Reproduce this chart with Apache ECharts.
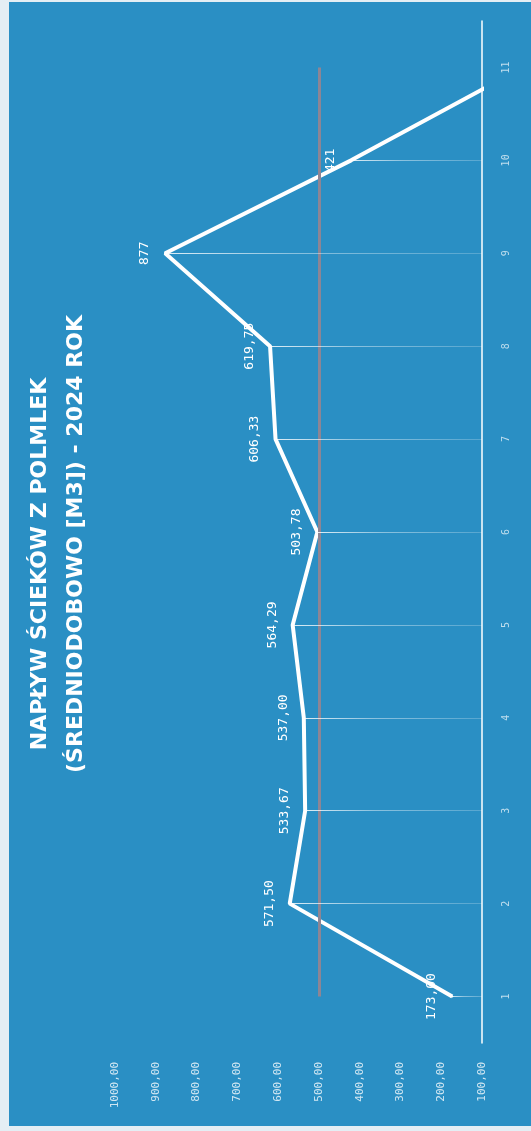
<!DOCTYPE html>
<html>
<head>
<meta charset="utf-8">
<script src="https://cdn.jsdelivr.net/npm/echarts@6/dist/echarts.min.js"></script>
<style>
  html, body { margin: 0; padding: 0; background: #e4eef4; }
  #chart { position: absolute; left: 9px; top: 2px; width: 522px; height: 1124px; }
</style>
</head>
<body>
<div id="chart"></div>
<script>
// months 1..11, average daily inflow [m3]
const months = ['1', '2', '3', '4', '5', '6', '7', '8', '9', '10', '11']
const inflow = [173, 571.5, 533.67, 537, 564.29, 503.78, 606.33, 619.75, 877, 421, 0]
const pointLabels = ['173,00', '571,50', '533,67', '537,00', '564,29', '503,78', '606,33', '619,75', '877', '421', '']
const limitValue = 500
const axisMin = 100
const axisMax = 1000
const axisStep = 100

const titleLine1 = 'NAPŁYW ŚCIEKÓW Z POLMLEK'
const titleLine2 = '(ŚREDNIODOBOWO [M3]) - 2024 ROK'

const chart = echarts.init(document.getElementById('chart'))

// thin drop lines from each point down to the month axis, fading out
const dropFade = new echarts.graphic.LinearGradient(0, 0, 1, 0, [
  { offset: 0, color: 'rgba(255,255,255,0.85)' },
  { offset: 0.4, color: 'rgba(255,255,255,0.45)' },
  { offset: 1, color: 'rgba(255,255,255,0.2)' }
])

const dropLines = inflow
  .map((v, i) => ({ v, i }))
  .filter(d => d.v >= axisMin)
  .map(d => [
    { coord: [d.v, months[d.i]] },
    { coord: [axisMin, months[d.i]] }
  ])

const limitLine = [
  { coord: [limitValue, months[0]], lineStyle: { color: '#8d8594', width: 3, opacity: 1 } },
  { coord: [limitValue, months[months.length - 1]] }
]

chart.setOption({
  backgroundColor: '#2a8fc4',
  animation: false,
  grid: { left: 106, right: 49, top: 19, bottom: 83 },
  graphic: [
    {
      type: 'text', x: 31, y: 562, rotation: Math.PI / 2,
      style: {
        text: titleLine1, fill: '#ffffff', font: 'bold 22px "DejaVu Sans"',
        align: 'center', verticalAlign: 'middle'
      }
    },
    {
      type: 'text', x: 67, y: 542, rotation: Math.PI / 2,
      style: {
        text: titleLine2, fill: '#ffffff', font: 'bold 22px "DejaVu Sans"',
        align: 'center', verticalAlign: 'middle'
      }
    }
  ],
  xAxis: {
    type: 'value',
    inverse: true,
    min: axisMin,
    max: axisMax,
    interval: axisStep,
    axisLine: { show: false },
    axisTick: { show: false },
    splitLine: { show: false },
    axisLabel: {
      rotate: 90,
      margin: 19,
      color: 'rgba(255,255,255,0.78)',
      fontFamily: 'DejaVu Sans Mono',
      fontSize: 11,
      formatter: v => v.toFixed(2).replace('.', ',')
    }
  },
  yAxis: {
    type: 'category',
    data: months,
    position: 'right',
    boundaryGap: true,
    axisLine: { show: true, lineStyle: { color: '#ffffff', width: 1.5 } },
    axisTick: { show: false },
    splitLine: { show: false },
    axisLabel: {
      rotate: 90,
      margin: 19,
      color: 'rgba(255,255,255,0.7)',
      fontFamily: 'DejaVu Sans Mono',
      fontSize: 10
    }
  },
  series: [
    {
      type: 'line',
      data: inflow,
      clip: true,
      symbol: 'circle',
      symbolSize: 2,
      showSymbol: true,
      itemStyle: { color: '#ffffff' },
      lineStyle: { color: '#ffffff', width: 4 },
      label: {
        show: true,
        position: 'left',
        distance: 13,
        rotate: 90,
        align: 'center',
        verticalAlign: 'bottom',
        color: '#ffffff',
        fontFamily: 'DejaVu Sans Mono',
        fontSize: 13,
        formatter: p => pointLabels[p.dataIndex]
      },
      markLine: {
        silent: true,
        symbol: 'none',
        label: { show: false },
        lineStyle: { color: dropFade, width: 1, type: 'solid' },
        data: [limitLine, ...dropLines]
      }
    }
  ]
})
</script>
</body>
</html>
